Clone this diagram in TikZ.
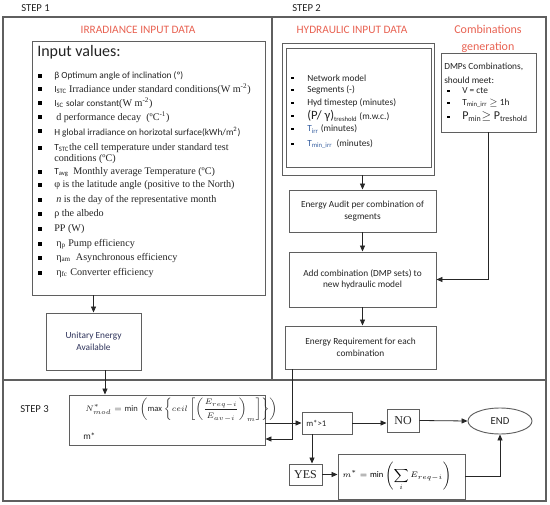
\documentclass[tikz,border=0pt]{standalone}
\usepackage{exscale}
\usepackage{fontspec}
\setmainfont{Carlito}
\newfontfamily\cambria{Liberation Serif}
\usetikzlibrary{arrows.meta,shapes.geometric}
\definecolor{titlered}{RGB}{232,98,82}
\definecolor{linegray}{RGB}{95,95,95}
\definecolor{txtdark}{RGB}{35,35,35}
\definecolor{tblue}{RGB}{55,95,160}
\definecolor{navytxt}{RGB}{45,50,90}
\newcommand{\serf}{\cambria\fontsize{7.6}{9}\selectfont}
\tikzset{
  frame/.style={draw=linegray, line width=0.9pt},
  box/.style={draw=linegray, line width=0.7pt, inner sep=0pt, align=center, font=\fontsize{7}{8.6}\selectfont, text=txtdark},
  txt/.style={anchor=west, inner sep=0.75pt, font=\fontsize{7}{8.6}\selectfont, text=txtdark},
  title/.style={inner sep=0.75pt, font=\fontsize{8.5}{10.5}\selectfont, text=titlered, align=center},
  steplabel/.style={anchor=west, inner sep=0pt, font=\fontsize{8}{9}\selectfont, text=txtdark},
  conn/.style={draw=black!85, line width=0.6pt, -{Triangle[length=4.5pt,width=3.8pt]}},
}
\begin{document}
\begin{tikzpicture}[x=0.75pt,y=0.75pt,yscale=-1,xscale=1]
\useasboundingbox (0,0) rectangle (550,505);
%Frames of the three steps
\draw [frame] (3,17) rectangle (272,380);
\draw [frame] (272,17) rectangle (546,380);
\draw [frame] (3,380) rectangle (546,501);

% Step labels
\draw (21,8) node [steplabel] {STEP 1};
\draw (292,8) node [steplabel] {STEP 2};
\draw (20,409) node [steplabel] {STEP 3};

% Titles
\draw (138,30) node (irrtitle) [title] {IRRADIANCE INPUT DATA};
\draw (352,30) node (hydtitle) [title] {HYDRAULIC INPUT DATA};
\draw (488,39) node (combtitle) [title, font=\fontsize{9}{12.5}\selectfont] {Combinations\\generation};

%Shape: Rectangle (input values)
\draw (148.5,168) node (inbox) [box, minimum width=174.75pt, minimum height=190.5pt] {};
%Shape: Rectangle (unitary energy)
\draw (93.5,341.5) node (unit) [box, minimum width=71.25pt, minimum height=42.75pt, text=navytxt] {Unitary Energy\\Available};
%Shape: Rectangle (hydraulic input, double border)
\draw (358,109) node (hydout) [box, minimum width=114pt, minimum height=99pt] {};
\draw (358.5,107.5) node (hydin) [box, minimum width=108.75pt, minimum height=89.25pt] {};
%Shape: Rectangle (DMPs combinations)
\draw (488.5,92.5) node (dmp) [box, minimum width=71.25pt, minimum height=59.25pt] {};
%Shape: Rectangle (energy audit)
\draw (362.5,211) node (audit) [box, minimum width=110.25pt, minimum height=31.5pt] {Energy Audit per combination of\\segments};
%Shape: Rectangle (add combination)
\draw (362.5,279.5) node (addc) [box, minimum width=110.25pt, minimum height=41.25pt] {Add combination (DMP sets) to\\new hydraulic model};
%Shape: Rectangle (energy requirement)
\draw (360.5,347.5) node (ereq) [box, minimum width=113.25pt, minimum height=32.25pt] {Energy Requirement for each\\combination};
%Shape: Rectangle (number of modules)
\draw (167,420) node (nmod) [box, minimum width=147pt, minimum height=37.5pt] {};
%Shape: Rectangle (m*>1)
\draw (327,423) node (mgt) [box, minimum width=37.5pt, minimum height=16.5pt] {};
%Shape: Rectangle (NO)
\draw (403,420.5) node (no) [box, minimum width=24pt, minimum height=17.25pt, font=\cambria\fontsize{9}{10}\selectfont] {NO};
%Shape: Ellipse (END)
\draw (500,421) node (endn) [box, ellipse, minimum width=48pt, minimum height=19.5pt, font=\fontsize{8}{9}\selectfont] {END};
%Shape: Rectangle (YES)
\draw (305.5,474.5) node (yes) [box, minimum width=24.75pt, minimum height=15.75pt, font=\cambria\fontsize{9}{10}\selectfont] {YES};
%Shape: Rectangle (m* min)
\draw (401.5,476.5) node (mstar) [box, minimum width=95.25pt, minimum height=33.75pt] {};

% Text Node: input values
\draw (36,52) node [txt, font=\fontsize{12}{14}\selectfont] {Input values:};
\foreach \yb in {76,89,103,117,131,148,172,185,200,214,229,244,258,273}
  \fill (37.5,\yb-2) rectangle (41.5,\yb+2);
\draw (53,76) node [txt] {β Optimum angle of inclination (º)};
\draw (53,89) node [txt] {I\textsubscript{STC} {\serf Irradiance under standard conditions(W m\textsuperscript{-2})}};
\draw (53,103) node [txt] {I\textsubscript{SC} solar constant{\serf(W m\textsuperscript{-2})}};
\draw (55,117) node [txt] {\serf d performance decay~~(ºC\textsuperscript{-1})};
\draw (53,132) node [txt] {H global irradiance on horizotal surface(kWh/m\textsuperscript{2})};
\draw (53,148) node [txt] {T\textsubscript{STC}{\serf the cell temperature under standard test}};
\draw (53,159) node [txt] {\serf conditions (ºC)};
\draw (53,172) node [txt] {T\textsubscript{avg} {\serf~Monthly average Temperature (ºC)}};
\draw (53,185) node [txt] {\serf φ is the latitude angle (positive to the North)};
\draw (55,200) node [txt] {\serf \textit{n} is the day of the representative month};
\draw (53,214) node [txt] {\serf ρ the albedo};
\draw (53,229) node [txt] {\serf PP (W)};
\draw (55,244) node [txt] {\serf η\textsubscript{p} Pump efficiency};
\draw (55,258) node [txt] {\serf η\textsubscript{am}~ Asynchronous efficiency};
\draw (55,273) node [txt] {\serf η\textsubscript{fc} Converter efficiency};

% Text Node: hydraulic input
\foreach \yb in {78,90,103,116,129,144}
  \fill (291,\yb-1.3) rectangle (293.6,\yb+1.3);
\draw (306,78) node [txt] {Network model};
\draw (306,90) node [txt] {Segments (-)};
\draw (306,103) node [txt] {Hyd timestep (minutes)};
\draw (306,116) node [txt] {{\fontsize{9.5}{10}\selectfont (P/ γ)}\textsubscript{treshold} (m.w.c.)};
\draw (306,129) node [txt] {\textcolor{tblue}{T\textsubscript{irr}} (minutes)};
\draw (306,144) node [txt] {\textcolor{tblue}{T\textsubscript{min\_irr}}~ (minutes)};

% Text Node: DMPs combinations
\draw (443,67) node [txt] {DMPs Combinations,};
\draw (443,80) node [txt] {should meet:};
\foreach \yb in {91,103,117}
  \fill (447,\yb-1.3) rectangle (449.6,\yb+1.3);
\draw (461,91) node [txt] {V = cte};
\draw (461,103) node [txt] {T\textsubscript{min\_irr} $\geq$ 1h};
\draw (461,117) node [txt, font=\fontsize{9}{10}\selectfont] {P\textsubscript{min}$\geq$ P\textsubscript{treshold}};

% Text Node: formulas
\draw (84,410) node [txt, font=\fontsize{6.4}{7.5}\selectfont] {$\displaystyle N^{*}_{mod} = \min\left(\max\left\{ceil\left[\left(\frac{E_{req-i}}{E_{av-i}}\right)_{m}\right]\right\}\right)$};
\draw (82,436) node [txt] {m*};
\draw (305,423) node [txt, font=\fontsize{6.5}{8}\selectfont] {m*>1};
\draw (397,476) node [inner sep=0pt, font=\fontsize{6.4}{7.5}\selectfont] {$\displaystyle m^{*} = \min\left(\sum_{i} E_{req-i}\right)$};

% Connectors
\draw [conn] (unit |- inbox.south) -- (unit.north);
\draw [conn] ([xshift=8.6pt]unit.south) -- ([xshift=8.6pt]unit.south |- nmod.north);
\draw [conn] (hydout.south -| audit) -- (audit.north);
\draw [conn] (audit.south) -- (addc.north);
\draw [conn] (addc.south) -- (addc.south |- ereq.north);
\draw [conn] (dmp.south) |- (addc.east);
\draw [conn] ([xshift=6pt]ereq.south west) |- ([yshift=14.25pt]nmod.east);
\draw [conn] (nmod.east |- mgt) -- (mgt.west);
\draw [conn] (mgt.east) -- (mgt.east -| no.west);
\draw [conn] (no.east) -- (endn.west);
\draw [conn] ([xshift=-11.25pt]mgt.south) -- ([xshift=-11.25pt]mgt.south |- yes.north);
\draw [conn] (yes.east) -- (yes.east -| mstar.west);
\draw [conn] (mstar.east) -| (endn.south);
\end{tikzpicture}
\end{document}
